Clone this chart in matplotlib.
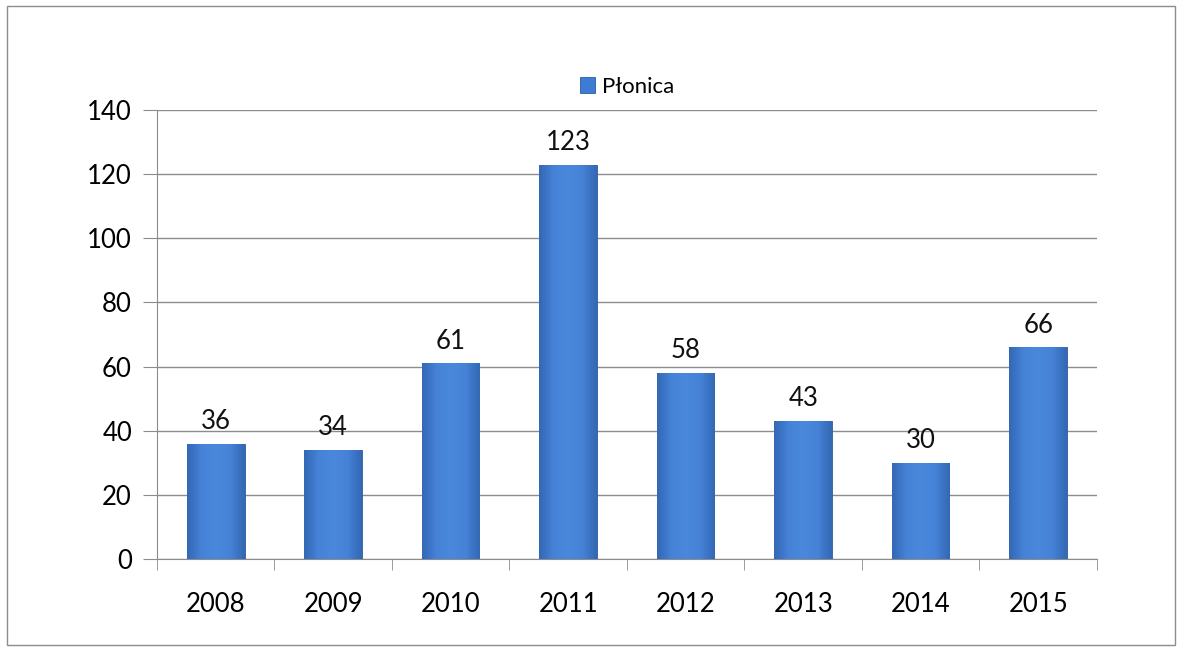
import numpy as np
import matplotlib
matplotlib.use("Agg")
import matplotlib.pyplot as plt
from matplotlib.colors import LinearSegmentedColormap
from matplotlib.patches import Rectangle

years = ["2008", "2009", "2010", "2011", "2012", "2013", "2014", "2015"]
values = [36, 34, 61, 123, 58, 43, 30, 66]
series_name = "P\u0142onica"

plt.rcParams["font.family"] = ["Lato", "DejaVu Sans"]

fig = plt.figure(figsize=(11.82, 6.51), dpi=100)
ax = fig.add_axes([0.1328, 0.1413, 0.7952, 0.6897])

# outer frame of the chart
fig.patches.append(Rectangle((0.006, 0.009), 0.988, 0.982, transform=fig.transFigure,
                             fill=False, edgecolor="#8c8c8c", lw=1.0))

x = np.arange(len(years))
bars = ax.bar(x, values, width=0.49, color="#3e7bd2", edgecolor="#2c5c9e",
              lw=0.6, zorder=3, label=series_name)

# horizontal shading for a rounded look
cmap = LinearSegmentedColormap.from_list("bar", ["#3368b4", "#4683d8", "#4a88dc", "#4683d8", "#3368b4"])
grad = np.linspace(0, 1, 64).reshape(1, -1)
for b in bars:
    x0, w, h = b.get_x(), b.get_width(), b.get_height()
    im = ax.imshow(grad, cmap=cmap, aspect="auto", extent=[x0, x0 + w, 0, h],
                   zorder=3.5, interpolation="bilinear")
    im.set_clip_path(b)

for xi, v in zip(x, values):
    ax.text(xi, v + 3, str(v), ha="center", va="bottom", fontsize=18.5, color="#111111")

ax.set_xlim(-0.5, len(years) - 0.5)
ax.set_ylim(0, 140)
ax.set_yticks(np.arange(0, 141, 20))
ax.set_xticks(x)
ax.set_xticklabels(years)
ax.set_xticks(np.arange(-0.5, len(years)), minor=True)
ax.tick_params(axis="x", which="major", length=0, pad=24, labelsize=18.5)
ax.tick_params(axis="x", which="minor", length=8, color="#8c8c8c", direction="out")
ax.tick_params(axis="y", length=10, color="#8c8c8c", labelsize=18.5, pad=8)
ax.grid(axis="y", color="#8c8c8c", lw=1.0, zorder=0)
for s in ["top", "right"]:
    ax.spines[s].set_visible(False)
ax.spines["left"].set_color("#8c8c8c")
ax.spines["bottom"].set_color("#8c8c8c")

ax.legend(loc="center", bbox_to_anchor=(0.5, 1.052), frameon=False,
          fontsize=16, handlelength=0.7, handleheight=0.7, handletextpad=0.3,
          borderpad=0)

fig.savefig("out.png", dpi=100)
